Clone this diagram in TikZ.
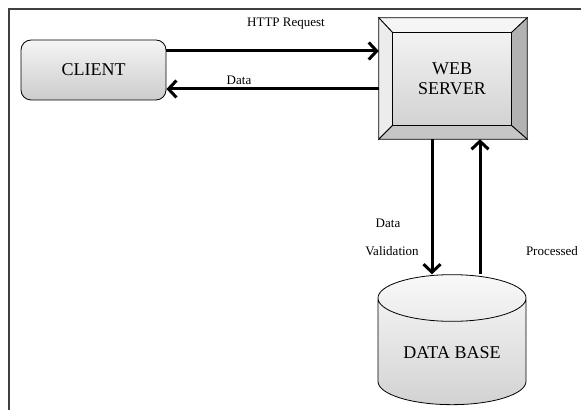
\documentclass[tikz,border=0pt]{standalone}
\usepackage{fontspec}
\setmainfont{Liberation Serif}
\usetikzlibrary{arrows.meta,shapes.geometric,calc,positioning}

\tikzset{
  bigfont/.style={font=\fontsize{18}{20}\selectfont},
  smallfont/.style={font=\fontsize{13}{14}\selectfont},
  flow/.style={line width=3pt, -{Straight Barb[length=8pt,width=17pt]}},
  face/.style={draw, line width=0.8pt}
}

\begin{document}
\begin{tikzpicture}[x=1pt, y=1pt]
  \useasboundingbox (0,0) rectangle (581,410);
  % frame
  \draw[line width=1.6pt, black!75] (581,401) -- (9,401) -- (9,0);

  % client
  \node[draw, line width=0.8pt, rounded corners=10pt, top color=gray!8, bottom color=gray!40,
        minimum width=145, minimum height=60, bigfont] (client) at (93.5,340) {CLIENT};

  % web server, bevelled box
  \node[minimum width=148, minimum height=121] (server) at (453,331.5) {};
  \coordinate (iNW) at ($(server.north west)+(14,-15)$);
  \coordinate (iNE) at ($(server.north east)+(-16,-15)$);
  \coordinate (iSW) at ($(server.south west)+(14,14)$);
  \coordinate (iSE) at ($(server.south east)+(-16,14)$);
  \draw[face, fill=gray!8] (server.north west) -- (server.north east) -- (iNE) -- (iNW) -- cycle;
  \draw[face, fill=gray!15] (server.north west) -- (iNW) -- (iSW) -- (server.south west) -- cycle;
  \draw[face, fill=gray!60] (server.north east) -- (server.south east) -- (iSE) -- (iNE) -- cycle;
  \draw[face, fill=gray!45] (server.south west) -- (iSW) -- (iSE) -- (server.south east) -- cycle;
  \draw[face, top color=gray!10, bottom color=gray!35] (iNW) rectangle (iSE);
  \node[bigfont, align=center] (servertext) at ($(iNW)!0.5!(iSE)$) {WEB\\SERVER};

  % data base
  \node[cylinder, shape border rotate=90, shape aspect=0.45, draw, line width=0.8pt,
        top color=gray!5, bottom color=gray!35, minimum width=148, minimum height=130,
        bigfont, yshift=-7] (db) at (452,62) {\raisebox{4pt}{DATA BASE}};

  % connectors
  \coordinate (reqA) at ($(client.east)+(0,19)$);
  \coordinate (datB) at ($(client.east)+(0,-19)$);
  \draw[flow] (reqA) -- (reqA -| server.west);
  \draw[flow] (datB -| server.west) -- (datB);
  \coordinate (valA) at ($(server.south)+(-21,0)$);
  \coordinate (procA) at ($(server.south)+(27,0)$);
  \draw[flow] (valA) -- (valA |- db.north);
  \draw[flow] (procA |- db.north) -- (procA);

  % labels
  \node[smallfont] (reqlbl) at (286,386) {HTTP Request};
  \node[smallfont] (datlbl) at (239,330) {Data};
  \node[smallfont] (vallbl) at (388,187) {Data};
  \node[smallfont] (vallbltwo) at (392,159) {Validation};
  \node[smallfont] (proclbl) at (552,159) {Processed};
\end{tikzpicture}
\end{document}
